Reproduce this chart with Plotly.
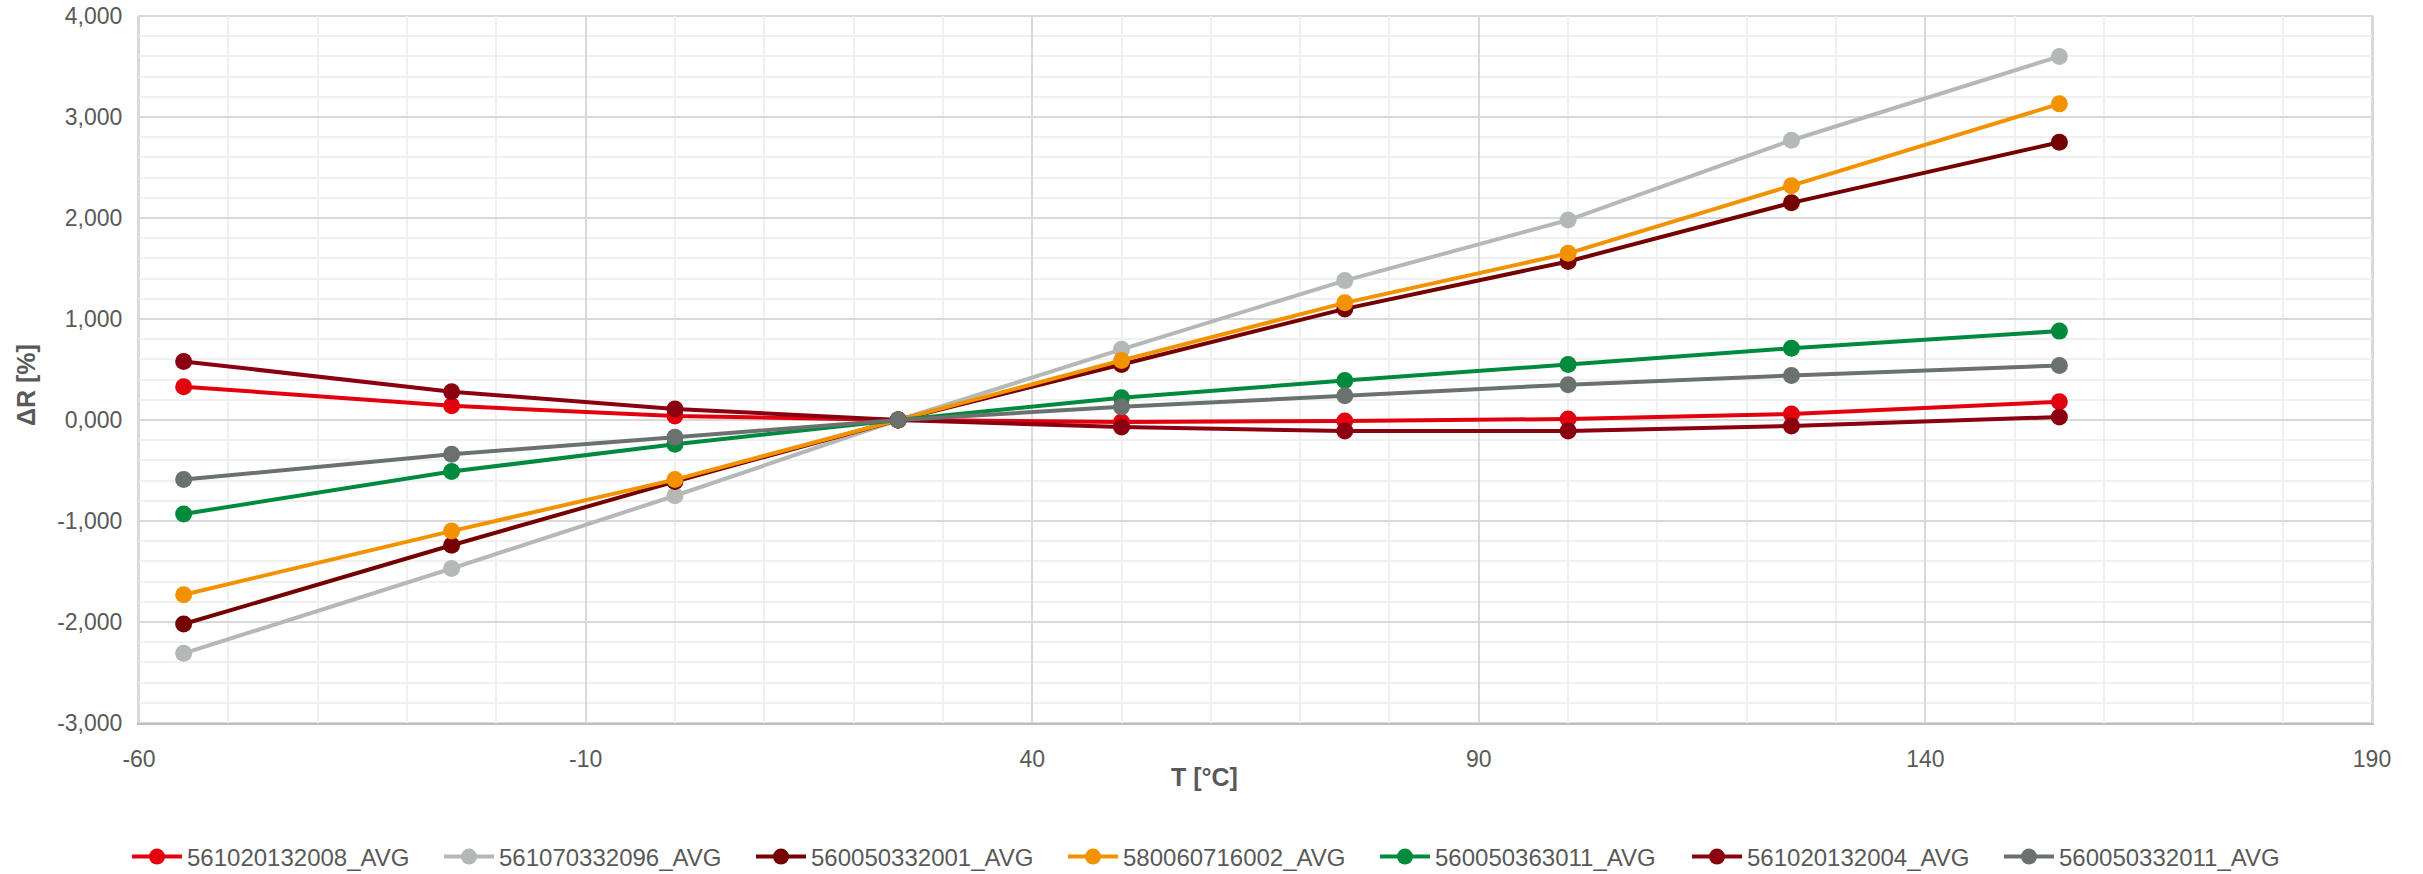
import plotly.graph_objects as go

# ---- data ----
temperature = [-55, -25, 0, 25, 50, 75, 100, 125, 155]

series_names = [
    "561020132008_AVG",
    "561070332096_AVG",
    "560050332001_AVG",
    "580060716002_AVG",
    "560050363011_AVG",
    "561020132004_AVG",
    "560050332011_AVG",
]

s_561020132008 = [0.33, 0.14, 0.04, 0.00, -0.02, -0.01, 0.01, 0.06, 0.18]
s_561070332096 = [-2.31, -1.47, -0.75, 0.00, 0.70, 1.38, 1.98, 2.77, 3.60]
s_560050332001 = [-2.02, -1.24, -0.61, 0.00, 0.55, 1.10, 1.57, 2.15, 2.75]
s_580060716002 = [-1.73, -1.10, -0.59, 0.00, 0.59, 1.16, 1.65, 2.32, 3.13]
s_560050363011 = [-0.93, -0.51, -0.24, 0.00, 0.22, 0.39, 0.55, 0.71, 0.88]
s_561020132004 = [0.58, 0.28, 0.11, 0.00, -0.07, -0.11, -0.11, -0.06, 0.03]
s_560050332011 = [-0.59, -0.34, -0.17, 0.00, 0.13, 0.24, 0.35, 0.44, 0.54]

series_values = [
    s_561020132008, s_561070332096, s_560050332001, s_580060716002,
    s_560050363011, s_561020132004, s_560050332011,
]

series_colors = ["#E3000F", "#B4B9B6", "#740000", "#F39200",
                 "#008A3E", "#8A0010", "#6A716F"]

x_tick_values = [-60, -10, 40, 90, 140, 190]
x_tick_labels = ["-60", "-10", "40", "90", "140", "190"]
y_tick_values = [-3, -2, -1, 0, 1, 2, 3, 4]
y_tick_labels = ["-3,000", "-2,000", "-1,000", "0,000", "1,000", "2,000", "3,000", "4,000"]

# ---- layout geometry (pixels) ----
W, H = 2423, 874
L, R, T, B = 139, 2372, 16, 723

FONT = "Liberation Sans, Arial, sans-serif"
TXT = "#595959"

fig = go.Figure()
for name, vals, col in zip(series_names, series_values, series_colors):
    fig.add_trace(go.Scatter(
        x=temperature, y=vals, name=name, mode="lines+markers",
        line=dict(color=col, width=4),
        marker=dict(color=col, size=17, symbol="circle"),
    ))

fig.update_layout(
    width=W, height=H,
    margin=dict(l=L, r=W - R, t=T, b=H - B, pad=0, autoexpand=False),
    paper_bgcolor="white", plot_bgcolor="white",
    font=dict(family=FONT, size=24, color=TXT),
    showlegend=True,
    legend=dict(
        orientation="h", xref="container", yref="container",
        x=1219 / W, xanchor="center", y=1 - 857 / H, yanchor="middle",
        font=dict(family=FONT, size=24, color=TXT),
        itemwidth=50, entrywidth=247, tracegroupgap=0,
        bgcolor="rgba(0,0,0,0)",
    ),
    xaxis=dict(
        range=[-60, 190], tickmode="array", tickvals=x_tick_values,
        ticktext=x_tick_labels, showgrid=True, gridcolor="#D9D9D9", gridwidth=1.5,
        minor=dict(dtick=10, tick0=-60, showgrid=True, gridcolor="#F0F0F0", gridwidth=1.5),
        showline=True, linecolor="#BFBFBF", linewidth=2, mirror=False,
        zeroline=False, ticks="", ticklabelstandoff=14, automargin=False,
        tickfont=dict(family=FONT, size=23, color=TXT),
    ),
    yaxis=dict(
        range=[-3, 4], tickmode="array", tickvals=y_tick_values,
        ticktext=y_tick_labels, showgrid=True, gridcolor="#D9D9D9", gridwidth=1.5,
        minor=dict(dtick=0.2, tick0=-3, showgrid=True, gridcolor="#F0F0F0", gridwidth=1.5),
        showline=True, linecolor="#D9D9D9", linewidth=2, mirror=True,
        zeroline=False, ticks="", ticklabelstandoff=10, automargin=False,
        tickfont=dict(family=FONT, size=23, color=TXT),
    ),
    annotations=[
        dict(text="<b>T [°C]</b>", xref="paper", yref="paper",
             x=(1204 - L) / (R - L), y=(B - 777) / (B - T),
             xanchor="center", yanchor="middle", showarrow=False,
             font=dict(family=FONT, size=25, color=TXT)),
        dict(text="<b>ΔR [%]</b>", xref="paper", yref="paper",
             x=(26 - L) / (R - L), y=(B - 385) / (B - T), textangle=-90,
             xanchor="center", yanchor="middle", showarrow=False,
             font=dict(family=FONT, size=25, color=TXT)),
    ],
)
fig.add_shape(type="rect", xref="paper", yref="paper", x0=0, x1=1, y0=0, y1=1,
              line=dict(color="#D9D9D9", width=2), layer="below")

fig.write_html(
    "out.html",
    config={"displayModeBar": False},
    post_script="document.body.style.margin='0';document.body.style.padding='0';"
                "document.documentElement.style.overflow='hidden';",
)
